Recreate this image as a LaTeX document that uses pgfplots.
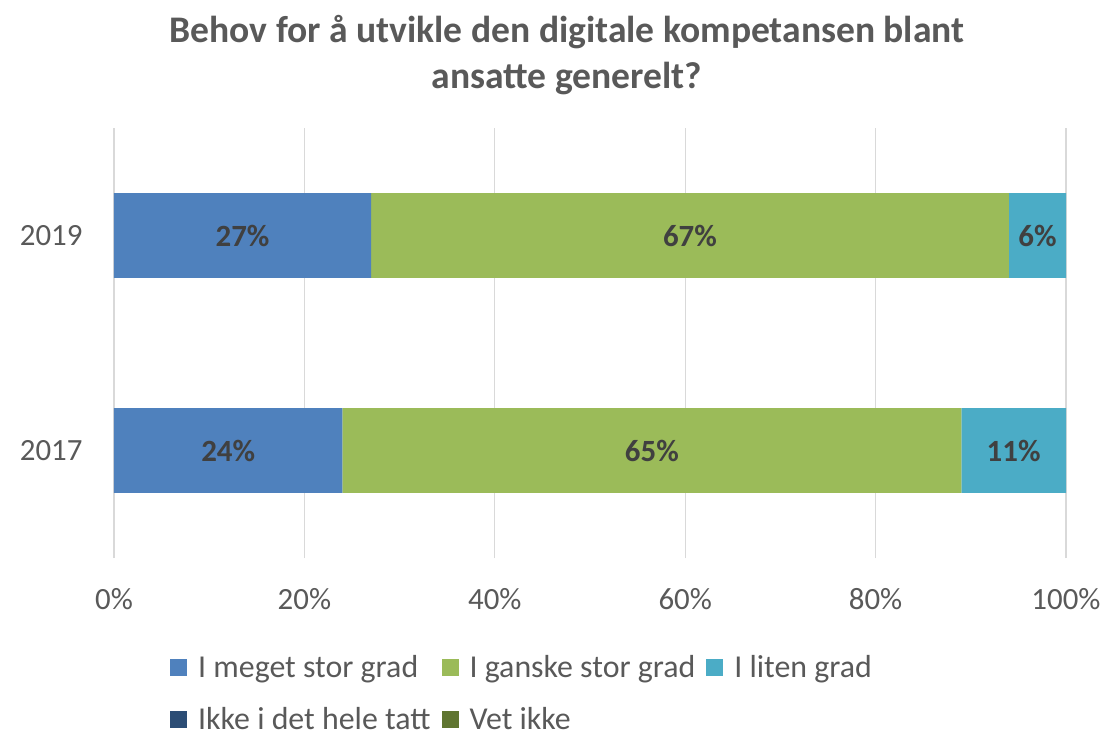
\documentclass[border=0pt]{standalone}
\usepackage{pgfplots}
\pgfplotsset{compat=1.18}
\usepackage{fontspec}
\setmainfont{Carlito}
\definecolor{c1}{HTML}{4F81BD}
\definecolor{c2}{HTML}{9BBB59}
\definecolor{c3}{HTML}{4BACC6}
\definecolor{c4}{HTML}{2C4D75}
\definecolor{c5}{HTML}{5F7530}
\definecolor{txt}{HTML}{595959}
\definecolor{lbl}{HTML}{404040}
\definecolor{gridc}{HTML}{D9D9D9}
\begin{document}
\begin{tikzpicture}
\path[use as bounding box] (-114bp,-173bp) rectangle (995bp,558bp);
\begin{axis}[
  at={(0,0)}, anchor=south west, scale only axis,
  width=952bp, height=430bp,
  xbar stacked, bar width=0.394,
  xmin=0, xmax=100, ymin=-0.5, ymax=1.5,
  ytick={0,1}, yticklabels={2017,2019},
  xtick={0,20,40,60,80,100},
  xticklabel={\pgfmathprintnumber{\tick}\%},
  /pgf/number format/assume math mode=true,
  xmajorgrids, ymajorgrids=false,
  grid style={gridc, line width=1.3bp},
  axis line style={draw=none},
  major tick length=0pt,
  tick label style={font=\fontsize{31}{37}\selectfont, text=txt},
  xticklabel style={yshift=-27bp},
  yticklabel style={xshift=-28bp},
  legend columns=3,
  legend cell align=left,
  legend style={at={(axis description cs:0.0588,-0.222)}, anchor=north west,
    draw=none, fill=none, inner sep=0pt,
    font=\fontsize{32}{38}\selectfont, text=txt,
    /tikz/every odd column/.append style={column sep=9bp},
    /tikz/every even column/.append style={column sep=9bp},
    /tikz/row sep=24bp},
  legend image code/.code={\fill[#1] (0bp,-8.5bp) rectangle (17bp,8.5bp);},
]
\addplot[fill=c1, draw=none] coordinates {(24,0) (27,1)};
\addlegendentry{I meget stor grad}
\addplot[fill=c2, draw=none] coordinates {(65,0) (67,1)};
\addlegendentry{I ganske stor grad}
\addplot[fill=c3, draw=none] coordinates {(11,0) (6,1)};
\addlegendentry{I liten grad}
\addplot[fill=c4, draw=none] coordinates {(0,0) (0,1)};
\addlegendentry{Ikke i det hele tatt}
\addplot[fill=c5, draw=none] coordinates {(0,0) (0,1)};
\addlegendentry{Vet ikke}
\end{axis}
\begin{axis}[
  at={(0,0)}, anchor=south west, scale only axis,
  width=952bp, height=430bp,
  xmin=0, xmax=100, ymin=-0.5, ymax=1.5,
  hide axis,
  nodes near coords, point meta=explicit symbolic,
  every node near coord/.style={font=\fontsize{31}{37}\selectfont\bfseries, text=lbl, anchor=center},
]
\addplot[only marks, mark=*, mark size=0pt, mark options={draw=none, fill=none}]
  coordinates {(12,0) [24\%] (56.5,0) [65\%] (94.5,0) [11\%]
               (13.5,1) [27\%] (60.5,1) [67\%] (97,1) [6\%]};
\end{axis}
\node[anchor=north, align=center, font=\fontsize{37.7}{46}\selectfont\bfseries, text=txt]
  at (453bp,546bp) {Behov for å utvikle den digitale kompetansen blant\\ansatte generelt?};
\end{tikzpicture}
\end{document}
